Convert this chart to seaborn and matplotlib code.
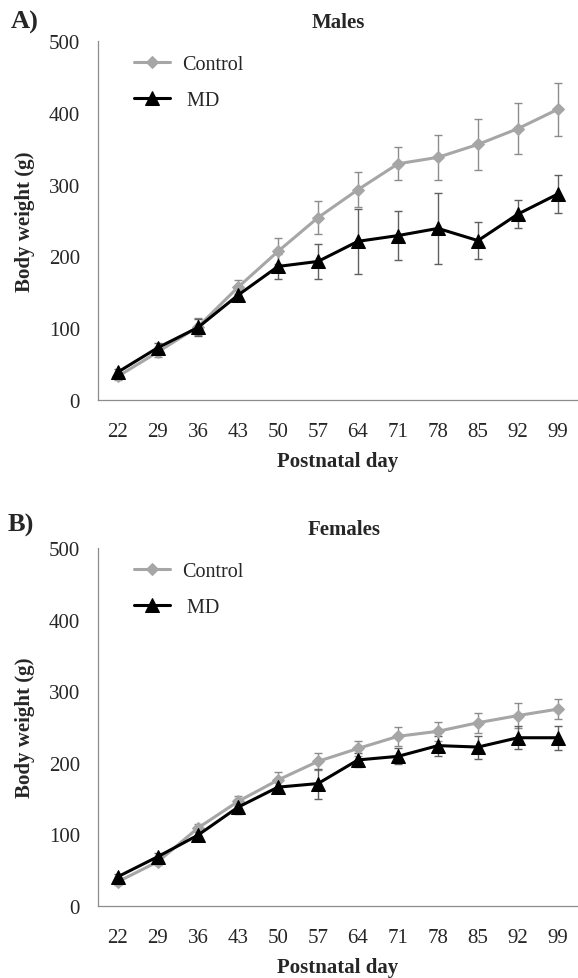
import matplotlib
matplotlib.use("Agg")
import matplotlib.pyplot as plt
import numpy as np
import pandas as pd
import seaborn as sns

# data (g, mean +/- error)
days = [22, 29, 36, 43, 50, 57, 64, 71, 78, 85, 92, 99]

male_control = [33, 67, 102, 157, 207, 254, 293, 329, 338, 356, 378, 405]
male_control_err = [5, 7, 12, 10, 18, 23, 24, 23, 31, 35, 36, 37]
male_md = [39, 73, 101, 146, 186, 193, 221, 229, 239, 222, 259, 287]
male_md_err = [4, 7, 12, 8, 17, 24, 45, 34, 49, 26, 20, 27]

female_control = [34, 62, 109, 146, 176, 202, 220, 237, 244, 256, 266, 275]
female_control_err = [4, 5, 6, 7, 11, 12, 10, 13, 13, 14, 18, 14]
female_md = [41, 69, 99, 138, 166, 171, 204, 209, 224, 222, 235, 235]
female_md_err = [3, 5, 6, 10, 8, 21, 10, 11, 14, 16, 16, 17]

groups = ["Control", "MD"]
legend_labels = ["Control", " MD"]
colors = {"Control": "#a6a6a6", "MD": "#000000"}
err_colors = {"Control": "#8c8c8c", "MD": "#606060"}
spine_col = "#8c8c8c"

sns.set_style("white")
plt.rcParams["font.family"] = ["Liberation Serif", "DejaVu Serif"]

W, H = 578, 979
fig = plt.figure(figsize=(W / 100, H / 100), dpi=100)


def style_markers(lines):
    for line in lines:
        m = line.get_marker()
        if m == "D":
            line.set_markeredgecolor(line.get_color())
            line.set_markersize(6.5)
        elif m == "^":
            line.set_markeredgecolor(line.get_color())
            line.set_markersize(10.5)


def draw_panel(ax, control, control_err, md, md_err, title, letter, title_y, letter_y, title_x, letter_x):
    pos = np.arange(len(days))
    df = pd.DataFrame({
        "pos": np.concatenate([pos, pos]),
        "weight": control + md,
        "group": ["Control"] * len(days) + ["MD"] * len(days),
    })
    for g, vals, err in [("Control", control, control_err), ("MD", md, md_err)]:
        ax.errorbar(pos, vals, yerr=err, fmt="none", ecolor=err_colors[g],
                    elinewidth=1.0, capsize=3, capthick=1.0, zorder=1)
    sns.lineplot(data=df, x="pos", y="weight", hue="group", style="group",
                 hue_order=groups, style_order=groups, palette=colors,
                 markers={"Control": "D", "MD": "^"}, dashes=False,
                 linewidth=2.2, errorbar=None, ax=ax, zorder=3)
    style_markers(ax.lines)

    handles, _ = ax.get_legend_handles_labels()
    handles = handles[-2:]
    style_markers(handles)
    ax.legend(handles, legend_labels, loc="upper left",
              bbox_to_anchor=(0.075, 0.96), frameon=False, fontsize=14.5,
              handlelength=1.8, handletextpad=0.6, labelspacing=0.8,
              borderpad=0, borderaxespad=0)

    ax.set_xlim(-0.5, len(days) - 0.5)
    ax.set_ylim(0, 500)
    ax.set_xticks(np.arange(-0.5, len(days)), [])
    ax.set_xticks(pos, [str(d) for d in days], minor=True)
    ax.set_yticks(range(0, 501, 100))
    ax.tick_params(axis="x", which="major", length=8, width=0.9, color=spine_col, direction="out")
    ax.tick_params(axis="x", which="minor", length=0, pad=16, labelsize=15)
    ax.tick_params(axis="y", length=3, width=0.9, color=spine_col, direction="out",
                   pad=10, labelsize=15)
    for s in ["top", "right"]:
        ax.spines[s].set_visible(False)
    for s in ["left", "bottom"]:
        ax.spines[s].set_color(spine_col)
        ax.spines[s].set_linewidth(0.9)
    ax.set_xlabel("Postnatal day", fontsize=15, fontweight="bold", labelpad=7)
    ax.set_ylabel("Body weight (g)", fontsize=15, fontweight="bold", labelpad=10)

    fig.text(title_x / W, 1 - title_y / H, title, ha="center", va="center",
             fontsize=15, fontweight="bold")
    fig.text(letter_x / W, 1 - letter_y / H, letter, ha="left", va="center",
             fontsize=19, fontweight="bold")


ax1 = fig.add_axes([98 / W, 1 - 401 / H, 480 / W, 359 / H])
ax2 = fig.add_axes([98 / W, 1 - 907 / H, 480 / W, 358 / H])

draw_panel(ax1, male_control, male_control_err, male_md, male_md_err,
           "Males", "A)", 23, 22, 338, 11)
draw_panel(ax2, female_control, female_control_err, female_md, female_md_err,
           "Females", "B)", 530, 525, 344, 8)

fig.savefig("out.png", dpi=100)
